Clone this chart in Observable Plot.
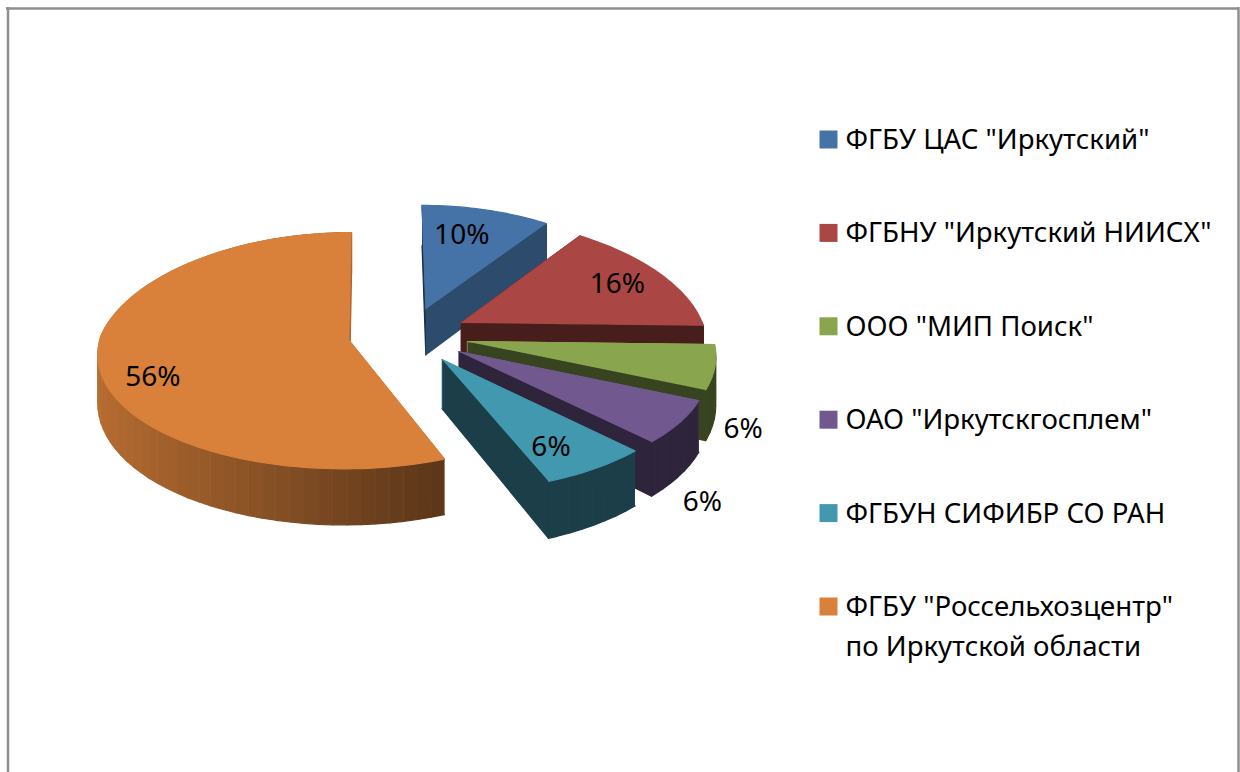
<!DOCTYPE html>
<html><head><meta charset="utf-8">
<style>html,body{margin:0;padding:0;background:#fff}svg{display:block}</style>
<script src="https://cdn.jsdelivr.net/npm/d3@7"></script>
<script src="https://cdn.jsdelivr.net/npm/@observablehq/plot@0.6"></script>
</head><body><div id="chart"></div>
<script>
const categories = ['ФГБУ ЦАС "Иркутский"','ФГБНУ "Иркутский НИИСХ"','ООО "МИП Поиск"','ОАО "Иркутскгосплем"','ФГБУН СИФИБР СО РАН','ФГБУ "Россельхозцентр"\nпо Иркутской области'];
const shares = [9.9,15.5,6.1,6.1,6.4,56];
const colors = ["#4572A7","#AA4643","#89A54E","#71588F","#4198AF","#D9813B"];
const labelFraction = [0.6,0.6,1.1,1.1,0.6,0.6];
const labelNudge = [[-2,-13],[34,-9],[3,59],[-1,72],[20,24],[-47,23]];
const paintOrder = [0,1,5,2,3,4];

// view of the pie
const view = {cx:408, cy:335, vx:395, radius:245, explode:60, depth:47.5, k:0.475, pxBack:0.0006, pxFront:0.0004, pDepth:0.0006, py:0.00034, leftGain:1.015, backShear:0.018};
const rad = d => d*Math.PI/180;
const sc = Y => 1/(1+(Y>0?view.pxBack:view.pxFront)*Y);
function project(X,Y,Z=0){
  const s = sc(Y);
  let Xg = X < -view.explode ? -view.explode+(X+view.explode)*view.leftGain : X;
  if (X<0 && Y>0) Xg -= Y*view.backShear;
  return {x:view.vx+(view.cx+Xg-view.vx)*s, y:view.cy-view.k*Y/(1+view.py*Y)+Z*view.depth/(1+view.pDepth*Y)};
}
const wallShade = a => Math.max(0.41, 0.41+0.44*(0.386-Math.sin(rad(a)))/1.386);
const cutShade = n => Math.max(0.41, 0.8-(((n%360)+360)%360-90)*0.0041);
const tint = (c,f) => { const r=d3.rgb(c); return d3.rgb(r.r*f,r.g*f,r.b*f).formatHex(); };

let cum=0; const slices = shares.map((v,i)=>{
  const a0=cum*3.6; cum+=v; const a1=cum*3.6, mid=(a0+a1)/2;
  return {i,a0,a1,mid,ox:view.explode*Math.sin(rad(mid)),oy:view.explode*Math.cos(rad(mid))};
});
const rim=(s,a,f=1)=>[s.ox+view.radius*f*Math.sin(rad(a)), s.oy+view.radius*f*Math.cos(rad(a))];

const faces=[]; let fid=0;
function face(ptsW,Zs,color){
  const id=fid++;
  ptsW.forEach((p,j)=>{const q=project(p[0],p[1],Zs[j]); faces.push({id,x:q.x,y:q.y,color});});
}
for(const i of paintOrder){
  const s=slices[i], c=colors[i], apex=[s.ox,s.oy];
  const cutA=[rim(s,s.a0),apex], cutB=[apex,rim(s,s.a1)];
  const quad=(l,col)=>face([l[0],l[1],l[1],l[0]],[0,0,1,1],col);
  quad(cutA,tint(c,cutShade(s.a0-90)));
  for(let a=s.a0;a<s.a1-0.001;a+=3){
    const b=Math.min(a+3,s.a1);
    if((a+b)/2>90) quad([rim(s,a),rim(s,b)],tint(c,wallShade((a+b)/2)));
  }
  quad(cutB,tint(c,cutShade(s.a1+90)));
  const top=[apex]; for(let a=s.a0;a<s.a1;a+=1.5) top.push(rim(s,a)); top.push(rim(s,s.a1));
  face(top,top.map(()=>0),c);
}

const labels = slices.map(s=>{
  const p=rim(s,s.mid,labelFraction[s.i]); const q=project(p[0],p[1]);
  return {x:q.x+labelNudge[s.i][0],y:q.y+labelNudge[s.i][1],text:Math.round(shares[s.i])+"%"};
});
const rowY = i=>139+i*93.4;
const legend = categories.map((t,i)=>({x:828,tx:845,y:rowY(i),t,color:colors[i]}));

const border="#8f8f8f";
const chart = Plot.plot({
  width:1240,height:772,margin:0,
  x:{domain:[0,1240],range:[0,1240],axis:null},
  y:{domain:[0,772],range:[0,772],axis:null},
  color:{type:"identity"},
  style:{background:"#fff",fontFamily:"'Noto Sans',sans-serif"},
  marks:[
    Plot.ruleX([7.5],{y1:7,y2:772,stroke:border,strokeWidth:2.5}),
    Plot.ruleX([1238],{y1:7,y2:772,stroke:border,strokeWidth:2.5}),
    Plot.ruleY([8],{x1:6,x2:1239,stroke:border,strokeWidth:2.5}),
    Plot.line(faces,{x:"x",y:"y",z:"id",fill:"color",stroke:"color",strokeWidth:1.2,curve:"linear"}),
    Plot.text(labels,{x:"x",y:"y",text:"text",fontSize:28,fill:"#000"}),
    Plot.dot(legend,{x:"x",y:"y",symbol:"square",r:10.15,fill:"color",stroke:null}),
    Plot.text(legend,{x:"tx",y:"y",text:"t",textAnchor:"start",lineAnchor:"top",dy:-19,fontSize:27.6,lineHeight:1.45,fill:"#000"})
  ]
});
document.getElementById("chart").append(chart);
</script></body></html>
